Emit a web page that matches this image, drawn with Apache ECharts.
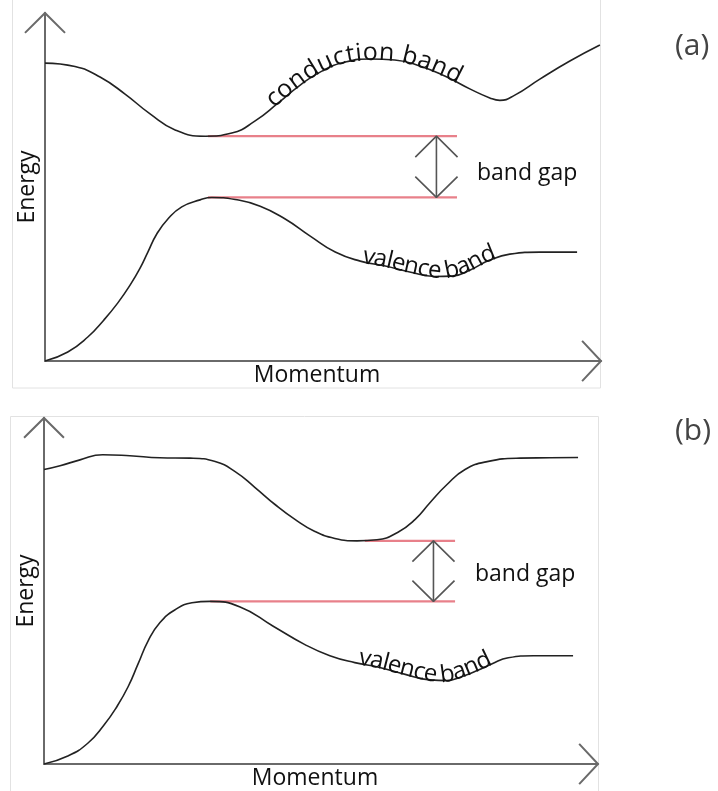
<!DOCTYPE html>
<html><head><meta charset="utf-8">
<script src="https://cdn.jsdelivr.net/npm/echarts@6/dist/echarts.min.js"></script>
<style>html,body{margin:0;padding:0;background:#fff}#c{width:718px;height:791px}</style>
</head><body><div id="c"></div>
<script>
// ---------- data (momentum / energy in arbitrary units 0..100) ----------
const panelLabels = ['(a)', '(b)'];
const axisNames = { x: 'Momentum', y: 'Energy' };

// Panel (a): indirect gap
const conductionA = [[0,85.6],[5.4,84.6],[9.9,81.6],[14.4,76.7],[18.9,71.0],[23.4,66.4],[28.8,64.6],[33.6,65.5],[37.8,69.0],[41.9,74.1],[45.9,79.3],[49.8,83.3],[54.0,85.9],[58.5,86.8],[62.9,86.5],[67.4,84.8],[71.9,81.9],[76.4,78.2],[80.0,75.6],[81.8,74.9],[84.5,76.4],[89.0,81.0],[94.4,86.2],[99.8,90.8]];
const valenceA = [[0,0],[4.1,2.6],[7.7,6.9],[10.6,11.8],[13.1,16.7],[15.3,21.8],[17.1,26.7],[18.5,31.3],[20.1,36.5],[22.1,40.8],[24.6,44.3],[27.9,46.3],[30.0,47.0],[34.2,46.4],[38.7,44.5],[43.2,40.8],[47.7,35.9],[52.2,31.3],[56.7,28.7],[61.2,27.3],[65.6,25.6],[70.1,24.3],[73.2,24.4],[76.4,26.1],[80.0,29.0],[83.6,30.7],[89.0,31.3],[95.7,31.3]];
const gapTopA = [[29.3,64.6],[74.1,64.6]];
const gapBottomA = [[29.3,47.0],[74.1,47.0]];
const gapArrowXA = 70.4;

// Panel (b): direct gap
const conductionB = [[0,85.1],[2.9,86.2],[6.5,87.9],[10.6,89.4],[15.5,89.1],[20.9,88.5],[26.4,88.4],[30.9,87.4],[34.5,84.5],[38.1,79.9],[41.7,75.0],[45.3,70.7],[48.9,67.2],[52.5,65.2],[56.5,64.5],[60.1,64.8],[63.9,67.0],[67.0,70.7],[69.7,75.6],[72.7,80.7],[76.0,85.1],[80.0,87.4],[85.9,88.4],[91.3,88.5],[96.4,88.6]];
const valenceB = [[0,0],[4.3,2.3],[7.9,6.0],[10.8,11.2],[13.2,16.7],[15.2,22.4],[17.0,29.0],[18.8,35.6],[20.9,40.8],[23.6,44.5],[26.7,46.6],[30.0,47.0],[35.4,45.4],[41.3,39.9],[47.1,34.5],[51.6,31.3],[56.1,29.3],[60.6,27.9],[65.2,25.9],[69.7,24.3],[72.7,24.1],[75.5,25.3],[78.2,27.0],[80.9,29.0],[83.8,30.7],[88.3,31.3],[95.5,31.3]];
const gapTopB = [[57.9,64.5],[74.2,64.5]];
const gapBottomB = [[30.0,47.0],[74.2,47.0]];
const gapArrowXB = 70.3;

// axis arrowheads (data units)
const axisArrowY = [[-3.6,94.3],[0,100],[3.6,94.3]];
const axisArrowX = [[96.6,5.8],[100,0],[96.6,-5.8]];

// annotations
const gapLabelPos = [[77.7,54.0],[77.8,54.7]];
const curvedLabels = [
  { grid: 0, curve: 'conductionA', text: 'conduction band', from: 41.0, to: 74.3, size: 25 },
  { grid: 0, curve: 'valenceA', text: 'valence band', from: 57.0, to: 81.3, size: 24 },
  { grid: 1, curve: 'valenceB', text: 'valence band', from: 56.7, to: 81.0, size: 24 }
];

// ---------- styling ----------
const FONT = '"Open Sans", "Noto Sans", sans-serif';
const FS = 23;
const textColor = '#111';
const curveColor = '#222';
const axisColor = '#6a6a6a';
const redColor = '#e8808a';
const arrowColor = '#555';

const chart = echarts.init(document.getElementById('c'), null, { renderer: 'canvas' });

const grids = [
  { left: 45, top: 13, width: 556, height: 348 },
  { left: 44, top: 418, width: 554, height: 348 }
];

function axisPair(i) {
  const common = { type: 'value', gridIndex: i, min: 0, max: 100, nameLocation: 'middle',
    axisLine: { show: true, onZero: false, lineStyle: { color: axisColor, width: 2 } },
    axisTick: { show: false }, axisLabel: { show: false }, splitLine: { show: false } };
  return {
    x: Object.assign({}, common, { name: axisNames.x, nameGap: 3,
      nameTextStyle: { fontSize: FS, color: textColor, fontFamily: FONT, padding: [0, 12, 0, 0] } }),
    y: Object.assign({}, common, { name: axisNames.y, nameGap: 6, nameRotate: 90,
      nameTextStyle: { fontSize: FS, color: textColor, fontFamily: FONT } })
  };
}
const axes = [axisPair(0), axisPair(1)];

function line(i, data, color, width, smooth, z) {
  return { type: 'line', xAxisIndex: i, yAxisIndex: i, data: data, smooth: smooth, symbol: 'none',
    clip: false, silent: true, z: z || 2, animation: false,
    lineStyle: { color: color, width: width } };
}

function panelSeries(i, cond, val, top, bot, ax) {
  const dx = 3.8, dy = 6.0;
  const yT = top[0][1], yB = bot[0][1];
  return [
    line(i, top, redColor, 2.2, false, 1),
    line(i, bot, redColor, 2.2, false, 1),
    line(i, cond, curveColor, 1.6, 0.5, 3),
    line(i, val, curveColor, 1.6, 0.5, 3),
    line(i, [[ax, yT], [ax, yB]], arrowColor, 1.6, false, 2),
    line(i, [[ax - dx, yT - dy], [ax, yT], [ax + dx, yT - dy]], arrowColor, 1.6, false, 2),
    line(i, [[ax - dx, yB + dy], [ax, yB], [ax + dx, yB + dy]], arrowColor, 1.6, false, 2),
    { type: 'scatter', xAxisIndex: i, yAxisIndex: i, data: [gapLabelPos[i]], symbolSize: 0, silent: true,
      itemStyle: { color: textColor, opacity: 1 }, animation: false,
      label: { show: true, position: 'right', distance: 0, formatter: 'band gap', fontSize: FS, color: textColor, fontFamily: FONT } }
  ];
}

const labelStyle = { fontSize: 30, fontWeight: 'normal', color: '#444', fontFamily: FONT };
const option = {
  backgroundColor: '#fff',
  animation: false,
  title: [
    { text: panelLabels[0], left: 675, top: 31, padding: 0, textStyle: labelStyle },
    { text: panelLabels[1], left: 675, top: 416, padding: 0, textStyle: labelStyle }
  ],
  grid: grids,
  xAxis: [axes[0].x, axes[1].x],
  yAxis: [axes[0].y, axes[1].y],
  series: [].concat(
    panelSeries(0, conductionA, valenceA, gapTopA, gapBottomA, gapArrowXA),
    panelSeries(1, conductionB, valenceB, gapTopB, gapBottomB, gapArrowXB)
  )
};
chart.setOption(option);

// ---------- text along curves ----------
const curves = { conductionA, valenceA, conductionB, valenceB };
const measureCtx = document.createElement('canvas').getContext('2d');

function curvedText(spec) {
  const g = spec.grid, fs = spec.size;
  const pts = curves[spec.curve].map(p => chart.convertToPixel({ gridIndex: g }, p));
  const dense = [];
  for (let i = 0; i < pts.length - 1; i++) {
    const p0 = pts[Math.max(i - 1, 0)], p1 = pts[i], p2 = pts[i + 1], p3 = pts[Math.min(i + 2, pts.length - 1)];
    for (let k = 0; k < 10; k++) {
      const t = k / 10, t2 = t * t, t3 = t2 * t;
      const f = j => 0.5 * (2 * p1[j] + (-p0[j] + p2[j]) * t + (2 * p0[j] - 5 * p1[j] + 4 * p2[j] - p3[j]) * t2 + (-p0[j] + 3 * p1[j] - 3 * p2[j] + p3[j]) * t3);
      dense.push([f(0), f(1)]);
    }
  }
  dense.push(pts[pts.length - 1]);
  const s = [0];
  for (let i = 1; i < dense.length; i++) s.push(s[i - 1] + Math.hypot(dense[i][0] - dense[i - 1][0], dense[i][1] - dense[i - 1][1]));
  const arcAtX = x => {
    for (let i = 0; i < dense.length - 1; i++) {
      if (dense[i][0] <= x && dense[i + 1][0] >= x) {
        const r = (x - dense[i][0]) / ((dense[i + 1][0] - dense[i][0]) || 1);
        return s[i] + r * (s[i + 1] - s[i]);
      }
    }
    return 0;
  };
  const pointAt = a => {
    for (let i = 0; i < dense.length - 1; i++) {
      if (s[i + 1] >= a) {
        const r = (a - s[i]) / ((s[i + 1] - s[i]) || 1);
        const j0 = Math.max(i - 1, 0), j1 = Math.min(i + 2, dense.length - 1);
        return { x: dense[i][0] + r * (dense[i + 1][0] - dense[i][0]), y: dense[i][1] + r * (dense[i + 1][1] - dense[i][1]),
          ang: Math.atan2(dense[j1][1] - dense[j0][1], dense[j1][0] - dense[j0][0]) };
      }
    }
    const n = dense.length - 1;
    return { x: dense[n][0], y: dense[n][1], ang: 0 };
  };
  const x0 = chart.convertToPixel({ gridIndex: g }, [spec.from, 0])[0];
  const x1 = chart.convertToPixel({ gridIndex: g }, [spec.to, 0])[0];
  const a0 = arcAtX(x0), a1 = arcAtX(x1);
  measureCtx.font = fs + 'px ' + FONT;
  const chars = spec.text.split('');
  const widths = chars.map(c => measureCtx.measureText(c).width);
  const total = widths.reduce((p, c) => p + c, 0);
  const gap = (a1 - a0 - total) / (chars.length - 1);
  const out = [];
  let pos = a0;
  chars.forEach((c, i) => {
    const mid = pos + widths[i] / 2;
    const p = pointAt(mid);
    const off = 0.24 * fs;
    const ax = p.x + off * Math.sin(p.ang), ay = p.y - off * Math.cos(p.ang);
    if (c !== ' ') {
      out.push({ type: 'text', x: ax, y: ay, rotation: -p.ang, silent: true, z: 10,
        style: { text: c, fontSize: fs, fontFamily: FONT, fill: textColor, align: 'center', verticalAlign: 'middle' } });
    }
    pos += widths[i] + gap;
  });
  return out;
}

function arrowHead(g, arr) {
  return { type: 'polyline', silent: true, z: 5,
    shape: { points: arr.map(p => chart.convertToPixel({ gridIndex: g }, p)) },
    style: { stroke: axisColor, lineWidth: 2, fill: null } };
}

let graphics = [
  { type: 'rect', shape: { x: 12.5, y: -2, width: 588, height: 390 }, style: { fill: 'none', stroke: '#e2e2e2', lineWidth: 1 }, silent: true, z: -1 },
  { type: 'rect', shape: { x: 10.5, y: 416.5, width: 588, height: 390 }, style: { fill: 'none', stroke: '#e2e2e2', lineWidth: 1 }, silent: true, z: -1 },
  arrowHead(0, axisArrowY), arrowHead(0, axisArrowX), arrowHead(1, axisArrowY), arrowHead(1, axisArrowX)
];
curvedLabels.forEach(sp => { graphics = graphics.concat(curvedText(sp)); });
chart.setOption({ graphic: graphics });
</script></body></html>
